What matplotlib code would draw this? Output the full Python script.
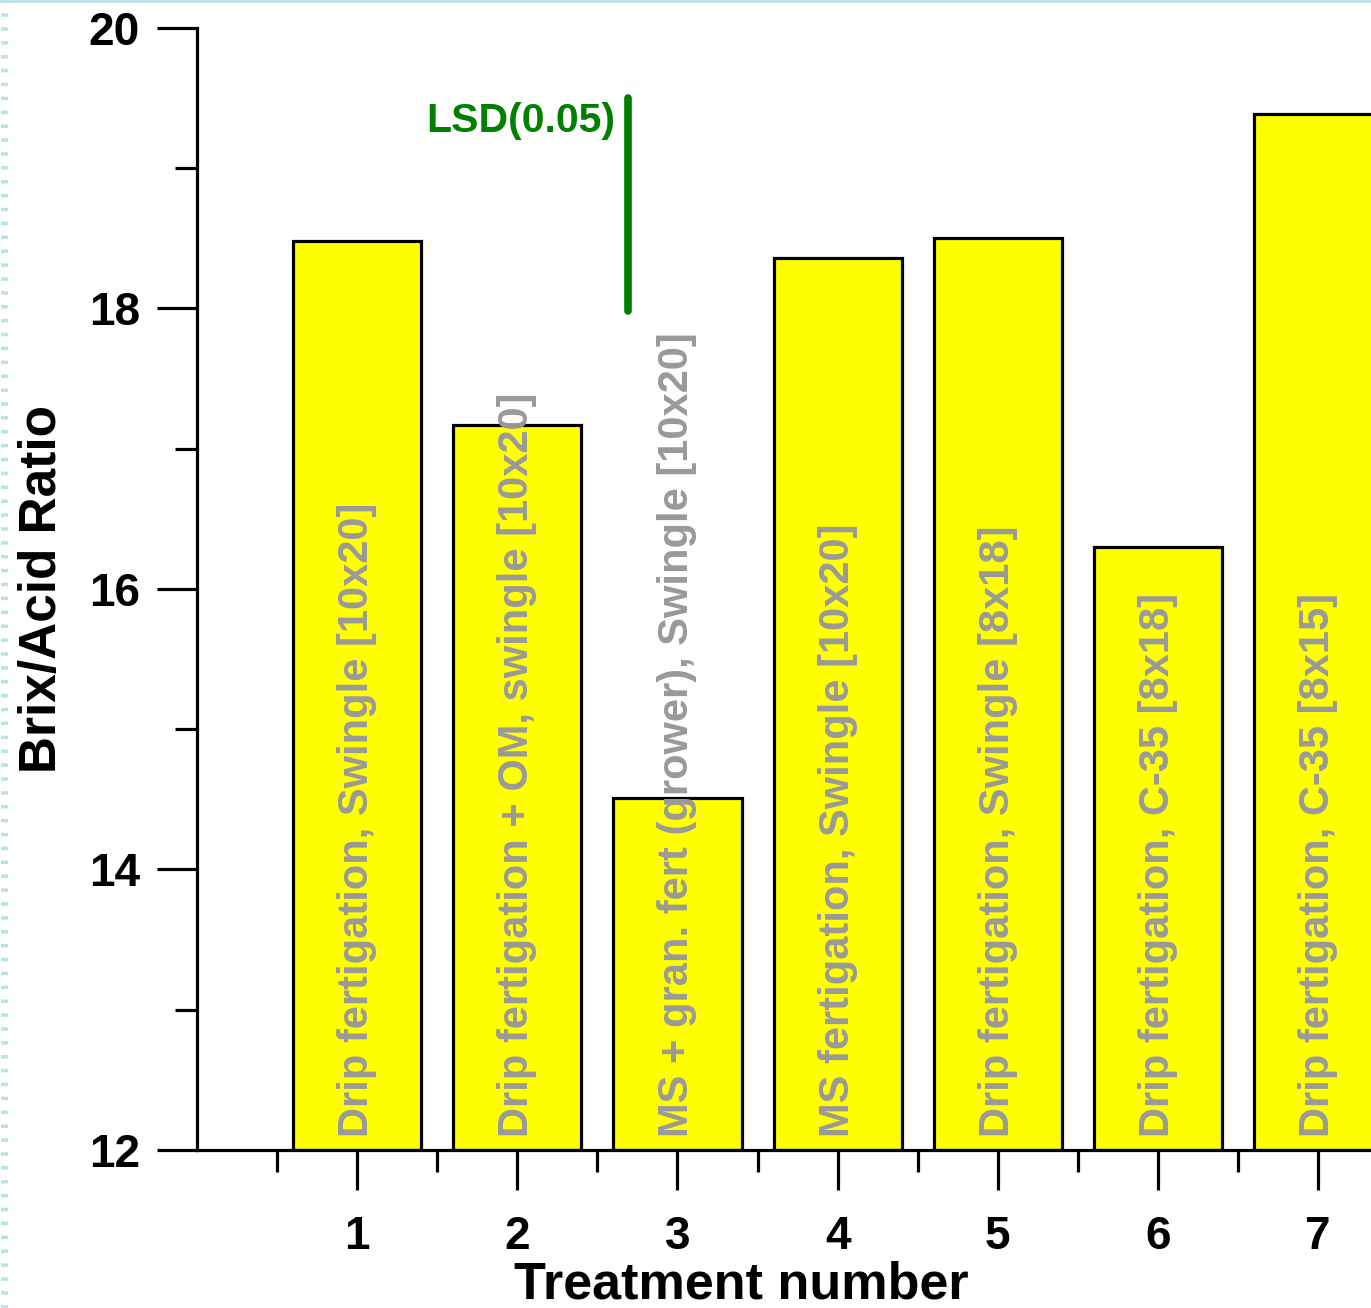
import matplotlib
matplotlib.use('Agg')
from matplotlib import pyplot as plt
from matplotlib.lines import Line2D
from matplotlib.ticker import MultipleLocator

plt.rcParams['font.family'] = ['Liberation Sans', 'DejaVu Sans']

treatments = [1, 2, 3, 4, 5, 6, 7]
ratio = [18.48, 17.17, 14.51, 18.36, 18.5, 16.3, 19.39]
labels = [
  'Drip fertigation, Swingle [10x20]',
  'Drip fertigation + OM, swingle [10x20]',
  'MS + gran. fert (grower), Swingle [10x20]',
  'MS fertigation, Swingle [10x20]',
  'Drip fertigation, Swingle [8x18]',
  'Drip fertigation, C-35 [8x18]',
  'Drip fertigation, C-35 [8x15]',
]
lsd_x = 2.69
lsd_range = [17.98, 19.5]

fig = plt.figure(figsize=(13.71, 13.08), dpi=100)
ax = fig.add_axes([0.1437, 0.1208, 0.8563, 0.8578])

ax.bar(treatments, [r - 12 for r in ratio], bottom=12, width=0.8,
       color='#ffff00', edgecolor='black', linewidth=2.3, zorder=2)

for x, lab in zip(treatments, labels):
  ax.text(x, 12.09, lab, rotation=90, ha='center', va='bottom',
          fontsize=30, color='#999999', fontweight='bold', zorder=3)

# LSD bar
ax.plot([lsd_x, lsd_x], lsd_range, color='#008000', linewidth=5.5,
        solid_capstyle='round', zorder=4)
ax.text(2.61, 19.34, 'LSD(0.05)', ha='right', va='center', fontsize=29.5,
        fontweight='bold', color='#008000')

ax.set_xlim(0, 7.33)
ax.set_ylim(12, 20)
ax.spines['top'].set_visible(False)
ax.spines['right'].set_visible(False)
ax.spines['left'].set_linewidth(2.3)
ax.spines['bottom'].set_linewidth(2.3)

ax.set_xticks(treatments)
ax.xaxis.set_minor_locator(MultipleLocator(1, offset=0.5))
ax.set_yticks([12, 14, 16, 18, 20])
ax.yaxis.set_minor_locator(MultipleLocator(1))
ax.tick_params(axis='both', which='major', length=29, width=2.3,
               labelsize=33, direction='out')
ax.tick_params(axis='both', which='minor', length=16, width=2.3, direction='out')
ax.tick_params(axis='x', which='major', pad=18)
ax.tick_params(axis='y', which='major', pad=12)
for t in ax.get_xticklabels() + ax.get_yticklabels():
  t.set_fontweight('bold')

ax.set_xlabel('Treatment number', fontsize=37.5, fontweight='bold', labelpad=1, x=0.464)
ax.set_ylabel('Brix/Acid Ratio', fontsize=37, fontweight='bold', labelpad=16)

# light frame remnants at the top and left edge
fig.add_artist(Line2D([0, 1], [0.999, 0.999], color='#b8e4e8', linewidth=2))
fig.add_artist(Line2D([0.003, 0.003], [0, 1], color='#b8e4e8', linewidth=5,
                      linestyle=(0, (0.5, 1.5))))

plt.savefig('out.png', dpi=100)
